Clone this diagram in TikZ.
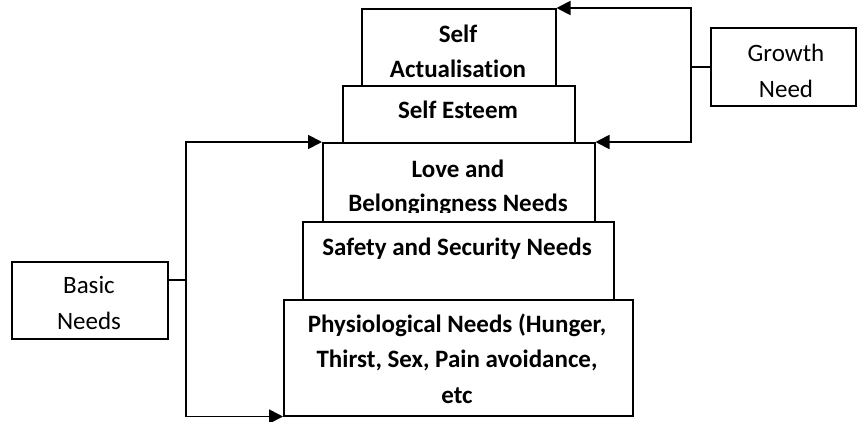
\documentclass[tikz,border=0pt]{standalone}
\usepackage{fontspec}
\setmainfont{Carlito}[Ligatures=NoCommon]
\usetikzlibrary{arrows.meta}
\begin{document}
\begin{tikzpicture}[x=1pt,y=-1pt,
  box/.style={draw, line width=1.5pt, fill=white, inner sep=0pt, anchor=north west},
  lvl/.style={font=\fontsize{25}{36}\selectfont\bfseries, anchor=base, inner sep=0pt},
  side/.style={font=\fontsize{25}{36}\selectfont, anchor=base, inner sep=0pt},
  link/.style={line width=1.8pt},
  arr/.style={link, -{Triangle[length=14pt,width=14pt]}}]
\useasboundingbox (0,0) rectangle (858,421);

% pyramid levels, top to bottom
\node[box, minimum width=194pt, minimum height=77pt] (sa) at (361,8) {};
\node[box, minimum width=232pt, minimum height=57pt] (se) at (342,85) {};
\node[box, minimum width=272pt, minimum height=79pt] (lb) at (322,142) {};
\node[box, minimum width=311pt, minimum height=78pt] (ss) at (302,221) {};
\node[box, minimum width=349pt, minimum height=116pt] (ph) at (283,299) {};

% side boxes
\node[box, minimum width=156pt, minimum height=77pt] (basic) at (11,261) {};
\node[box, minimum width=145pt, minimum height=78pt] (growth) at (710,27) {};

% level texts
\node[lvl] (sa1) at (458,42) {Self};
\node[lvl] (sa2) at (458,77) {Actualisation};
\node[lvl] (se1) at (458,118) {Self Esteem};
\begin{scope}
  \clip (322,142) rectangle (594,212);
  \node[lvl] (lb1) at (458,177) {Love and};
  \node[lvl] (lb2) at (458,211) {Belongingness Needs};
\end{scope}
\node[lvl] (ss1) at (457,255) {Safety and Security Needs};
\node[lvl] (ph1) at (457,332) {Physiological Needs (Hunger,};
\node[lvl] (ph2) at (457,367) {Thirst, Sex, Pain avoidance,};
\node[lvl] (ph3) at (457,403) {etc};

% side texts
\node[side] (b1) at (89,293) {Basic};
\node[side] (b2) at (89,329) {Needs};
\node[side] (g1) at (786,61) {Growth};
\node[side] (g2) at (786,97) {Need};

% connectors
\coordinate (bj) at (186,280);
\coordinate (gj) at (691,67);
\draw[link] (bj -| basic.east) -- (bj);
\draw[arr] (bj) |- (lb.north west);
\draw[arr] (bj) |- (ph.south west);
\draw[link] (gj -| growth.west) -- (gj);
\draw[arr] (gj) |- (sa.north east);
\draw[arr] (gj) |- (lb.north east);
\end{tikzpicture}
\end{document}
